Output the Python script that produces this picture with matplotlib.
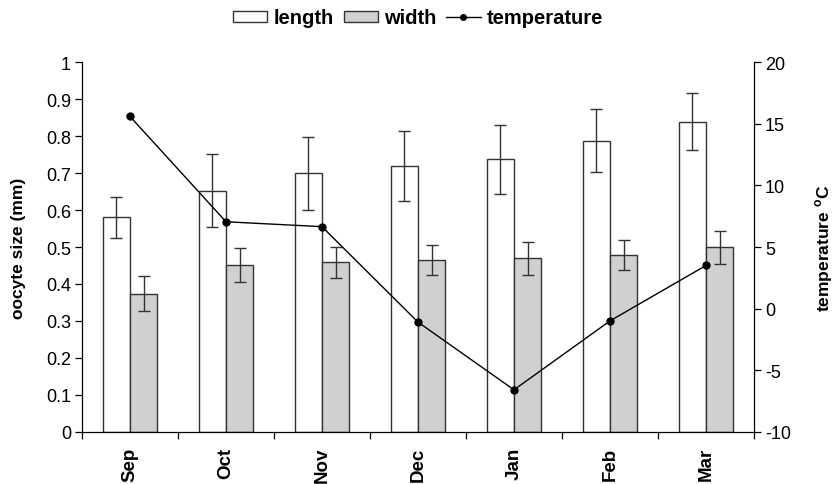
import matplotlib
matplotlib.use("Agg")
import matplotlib.pyplot as plt
import numpy as np
from matplotlib.patches import Patch
from matplotlib.lines import Line2D

plt.rcParams['font.family'] = ['Liberation Sans', 'DejaVu Sans']
plt.rcParams['mathtext.fontset'] = 'custom'
plt.rcParams['mathtext.rm'] = 'Liberation Sans:bold'
plt.rcParams['mathtext.bf'] = 'Liberation Sans:bold'

months = ["Sep", "Oct", "Nov", "Dec", "Jan", "Feb", "Mar"]
length = [0.580, 0.652, 0.699, 0.720, 0.737, 0.788, 0.839]
length_err = [0.056, 0.099, 0.099, 0.095, 0.093, 0.086, 0.077]
width = [0.374, 0.451, 0.459, 0.465, 0.469, 0.479, 0.499]
width_err = [0.047, 0.046, 0.042, 0.040, 0.044, 0.040, 0.044]
temperature = [15.6, 7.05, 6.65, -1.1, -6.6, -1.0, 3.5]
left_ticks = [0, 0.1, 0.2, 0.3, 0.4, 0.5, 0.6, 0.7, 0.8, 0.9, 1.0]
right_ticks = [-10, -5, 0, 5, 10, 15, 20]

edge = '#333333'
fig = plt.figure(figsize=(8.34, 4.85), dpi=100)
ax = fig.add_axes([82/834, 1 - 432.7/485, 672/834, (432.7 - 63.3)/485])
x = np.arange(len(months))
bw = 0.285
ax.bar(x - bw/2, length, bw, color='white', edgecolor=edge, linewidth=1.0,
       yerr=length_err, error_kw=dict(ecolor=edge, elinewidth=1.0, capsize=4, capthick=1.0), zorder=2)
ax.bar(x + bw/2, width, bw, color='#d0d0d0', edgecolor=edge, linewidth=1.0,
       yerr=width_err, error_kw=dict(ecolor=edge, elinewidth=1.0, capsize=4, capthick=1.0), zorder=2)
ax.set_xlim(-0.5, len(months) - 0.5)
ax.set_ylim(0, 1)
ax.set_yticks(left_ticks)
ax.set_yticklabels([f"{v:g}" for v in left_ticks], fontsize=13)
ax.set_xticks(np.arange(len(months) + 1) - 0.5)
ax.set_xticklabels([])
ax.set_xticks(x, minor=True)
ax.set_xticklabels(months, minor=True, rotation=90, fontsize=13.5, fontweight='bold')
ax.tick_params(axis='x', which='minor', length=0, pad=11)
ax.tick_params(axis='x', which='major', length=5, direction='out', width=0.9)
ax.tick_params(axis='y', length=5, width=0.9, pad=3)
ax.spines['top'].set_visible(False)
ax.spines['right'].set_visible(False)
for s in ['left', 'bottom']:
    ax.spines[s].set_linewidth(0.9)
ax.set_ylabel("oocyte size (mm)", fontsize=12.5, fontweight='bold')
ax.yaxis.set_label_coords(-0.083, 0.5)

ax2 = ax.twinx()
ax2.plot(x, temperature, color='black', linewidth=1.0, marker='o', markersize=5, zorder=3)
ax2.set_ylim(-10, 20)
ax2.set_yticks(right_ticks)
ax2.set_yticklabels([f"{v:g}" for v in right_ticks], fontsize=13)
ax2.tick_params(axis='y', length=5, width=0.9, pad=3)
ax2.spines['top'].set_visible(False)
ax2.spines['left'].set_visible(False)
ax2.spines['bottom'].set_visible(False)
ax2.spines['right'].set_linewidth(0.9)
ax2.set_ylabel(r"temperature $^{\mathbf{o}}$C", fontsize=12.5, fontweight='bold', rotation=90)
ax2.yaxis.set_label_coords(1.088, 0.5)

handles = [Patch(facecolor='white', edgecolor=edge, linewidth=1.0),
           Patch(facecolor='#d0d0d0', edgecolor=edge, linewidth=1.0),
           Line2D([], [], color='black', linewidth=1.0, marker='o', markersize=4)]
fig.legend(handles, ["length", "width", "temperature"], loc='center', ncol=3,
           bbox_to_anchor=(418/834, 1 - 19/485), frameon=False,
           prop={'weight': 'bold', 'size': 14.5}, handlelength=1.7, handleheight=0.5,
           handletextpad=0.3, columnspacing=0.5)

fig.savefig("out.png", dpi=100)
